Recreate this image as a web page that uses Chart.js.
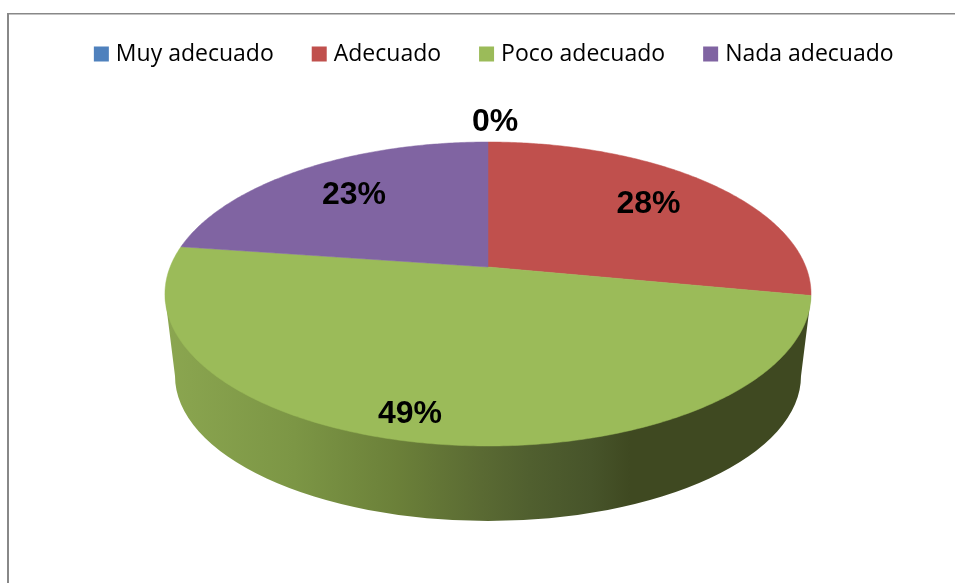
<!DOCTYPE html>
<html>
<head>
<meta charset="utf-8">
<style>html,body{margin:0;padding:0;background:#fff;overflow:hidden}#w{width:955px;height:583px;position:relative}canvas{display:block}</style>
<script src="https://cdn.jsdelivr.net/npm/chart.js@4"></script>
</head>
<body>
<div id="w"><canvas id="c" width="955" height="583"></canvas></div>
<script>
const categories = ["Muy adecuado", "Adecuado", "Poco adecuado", "Nada adecuado"];
const percentages = [0, 28, 49.25, 22.75];
const sliceColors = ["#4f81bd", "#c0504d", "#9bbb59", "#8064a2"];

const LEGEND_SIZE = 23;
const LEGEND_STROKE = LEGEND_SIZE - 14;
const LEGEND_BOX = 15 - LEGEND_STROKE;

// Perspective projection of the pie's unit disc onto the page
const cam = { x: 488, y: 267, ax: 317.9, ay: 147.2, p: -0.1776 };
function project(u, v, r) {
  const d = 1 + cam.p * v * r;
  return [cam.x + cam.ax * u * r / d, cam.y + cam.ay * v * r / d];
}
const labelCentres = [[495, 122], [648.5, 204], [410, 414], [354, 195]];

const pie3d = {
  id: "pie3d",
  beforeDatasetsDraw(chart) {
    const ctx = chart.ctx;
    ctx.save();
    // frame lines
    ctx.fillStyle = "#888888";
    ctx.fillRect(7, 13, 948, 1.5);
    ctx.fillRect(7, 13, 2, 570);
    // side wall
    const g = ctx.createLinearGradient(165, 0, 811, 0);
    [[0, "#8ba650"], [0.2, "#7c9645"], [0.36, "#6b8039"], [0.49, "#5a6a33"],
     [0.565, "#505f2f"], [0.66, "#47542a"], [0.72, "#3f4921"], [1, "#3f4921"]]
      .forEach(s => g.addColorStop(s[0], s[1]));
    ctx.fillStyle = g;
    ctx.beginPath();
    ctx.moveTo(165, 296);
    ctx.lineTo(175, 376);
    ctx.ellipse(488, 376, 313, 145, 0, Math.PI, 0, true);
    ctx.lineTo(811, 296);
    ctx.closePath();
    ctx.fill();
    // top face
    chart.getDatasetMeta(0).data.forEach((arc, i) => {
      const a0 = arc.startAngle, a1 = arc.endAngle;
      if (a1 - a0 <= 0) return;
      ctx.beginPath();
      ctx.moveTo(cam.x, cam.y);
      const n = Math.max(2, Math.ceil((a1 - a0) * 90));
      for (let k = 0; k <= n; k++) {
        const a = a0 + (a1 - a0) * k / n;
        const q = project(Math.cos(a), Math.sin(a), 1);
        ctx.lineTo(q[0], q[1]);
      }
      ctx.closePath();
      ctx.fillStyle = sliceColors[i];
      ctx.strokeStyle = sliceColors[i];
      ctx.lineWidth = 0.5;
      ctx.fill();
      ctx.stroke();
    });
    ctx.restore();
    return false;
  },
  afterDraw(chart) {
    const ctx = chart.ctx;
    ctx.save();
    ctx.font = "bold 32px 'Liberation Sans'";
    ctx.fillStyle = "#000";
    ctx.textAlign = "center";
    ctx.textBaseline = "middle";
    percentages.forEach((v, i) => {
      ctx.fillText(Math.round(v) + "%", labelCentres[i][0], labelCentres[i][1]);
    });
    ctx.restore();
  }
};

new Chart(document.getElementById("c"), {
  type: "pie",
  data: {
    labels: categories,
    datasets: [{ data: percentages, backgroundColor: sliceColors, borderWidth: 0 }]
  },
  plugins: [pie3d],
  options: {
    responsive: false,
    animation: false,
    layout: { padding: { left: 37, top: 0 } },
    plugins: {
      tooltip: { enabled: false },
      legend: {
        display: true,
        position: "top",
        labels: {
          font: { family: "'Open Sans'", size: LEGEND_SIZE },
          color: "#111111",
          boxWidth: LEGEND_BOX,
          boxHeight: LEGEND_BOX,
          padding: 38 + LEGEND_STROKE / 2,
          generateLabels(chart) {
            return categories.map((c, i) => ({
              text: c, fillStyle: sliceColors[i], strokeStyle: sliceColors[i],
              lineWidth: LEGEND_STROKE, hidden: false, index: i
            }));
          }
        }
      }
    }
  }
});
</script>
</body>
</html>
